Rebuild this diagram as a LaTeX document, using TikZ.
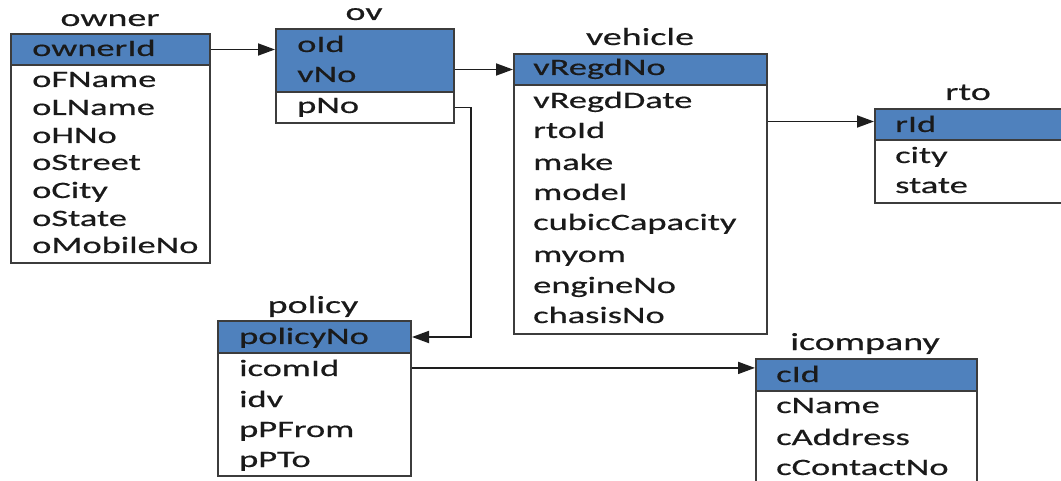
\documentclass[tikz,border=0pt]{standalone}
\usepackage{fontspec}
\newfontfamily\tabfont[FakeStretch=1.55,FakeBold=0.5]{Carlito}
\usetikzlibrary{arrows.meta}
\definecolor{hdrblue}{HTML}{4F81BD}
\definecolor{tabline}{HTML}{3C3C3C}
\definecolor{txt}{HTML}{1A1A1A}
\definecolor{linkc}{HTML}{1E1E1E}
\begin{document}
\begin{tikzpicture}[x=1pt,y=-1pt,
  hdr/.style={draw=tabline, fill=hdrblue, line width=2pt, inner sep=0pt, anchor=north west},
  bodybox/.style={draw=tabline, fill=white, line width=2pt, inner sep=0pt, anchor=north west},
  fld/.style={anchor=base west, inner sep=0pt, text=txt, font=\tabfont\fontsize{23.5}{23.5}\selectfont},
  ttl/.style={anchor=base, inner sep=0pt, text=txt, font=\tabfont\fontsize{24.5}{24.5}\selectfont},
  link/.style={draw=linkc, line width=1.8pt, -{Triangle[length=17pt,width=12pt]}}]
\useasboundingbox (0,0) rectangle (1061,481);
\clip (0,0) rectangle (1061,481);

% owner
\node[bodybox, minimum width=199pt, minimum height=198pt] (ownerB) at (10,64) {};
\node[hdr, minimum width=199pt, minimum height=31pt] (ownerH) at (10,33) {};
\node[ttl] (ownerT) at (110,26) {owner};
\node[fld] (ownerId) at (32,56) {ownerId};
\node[fld] (oFName) at (32,87) {oFName};
\node[fld] (oLName) at (32,115) {oLName};
\node[fld] (oHNo) at (32,143) {oHNo};
\node[fld] (oStreet) at (32,170) {oStreet};
\node[fld] (oCity) at (32,198) {oCity};
\node[fld] (oState) at (32,226) {oState};
\node[fld] (oMobileNo) at (32,253) {oMobileNo};

% ov
\node[bodybox, minimum width=178pt, minimum height=31pt] (ovB) at (275,91) {};
\node[hdr, minimum width=178pt, minimum height=63pt] (ovH) at (275,28) {};
\node[ttl] (ovT) at (364,20) {ov};
\node[fld] (oId) at (297,52) {oId};
\node[fld] (vNo) at (297,82) {vNo};
\node[fld] (pNo) at (297,113) {pNo};

% vehicle
\node[bodybox, minimum width=253pt, minimum height=249pt] (vehB) at (513,84) {};
\node[hdr, minimum width=253pt, minimum height=31pt] (vehH) at (513,53) {};
\node[ttl] (vehT) at (640,45) {vehicle};
\node[fld] (vRegdNo) at (533,75) {vRegdNo};
\node[fld] (vRegdDate) at (533,108) {vRegdDate};
\node[fld] (rtoId) at (533,138) {rtoId};
\node[fld] (make) at (533,170) {make};
\node[fld] (model) at (533,200) {model};
\node[fld] (cubicCapacity) at (533,230) {cubicCapacity};
\node[fld] (myom) at (533,262) {myom};
\node[fld] (engineNo) at (533,293) {engineNo};
\node[fld] (chasisNo) at (533,323) {chasisNo};

% rto
\node[bodybox, minimum width=189pt, minimum height=63pt] (rtoB) at (874,139) {};
\node[hdr, minimum width=189pt, minimum height=31pt] (rtoH) at (874,108) {};
\node[ttl] (rtoT) at (968,100) {rto};
\node[fld] (rId) at (895,132) {rId};
\node[fld] (city) at (895,163) {city};
\node[fld] (state) at (895,193) {state};

% policy
\node[bodybox, minimum width=193pt, minimum height=123pt] (polB) at (217,352) {};
\node[hdr, minimum width=193pt, minimum height=32pt] (polH) at (217,320) {};
\node[ttl] (polT) at (313,313) {policy};
\node[fld] (policyNo) at (239,344) {policyNo};
\node[fld] (icomId) at (239,376) {icomId};
\node[fld] (idv) at (239,407) {idv};
\node[fld] (pPFrom) at (239,437) {pPFrom};
\node[fld] (pPTo) at (239,467) {pPTo};

% icompany
\node[bodybox, minimum width=221pt, minimum height=110pt] (icoB) at (755,390) {};
\node[hdr, minimum width=221pt, minimum height=32pt] (icoH) at (755,358) {};
\node[ttl] (icoT) at (865,350) {icompany};
\node[fld] (cId) at (776,382) {cId};
\node[fld] (cName) at (776,413) {cName};
\node[fld] (cAddress) at (776,445) {cAddress};
\node[fld] (cContactNo) at (776,475) {cContactNo};

% relationships
\draw[link] (ownerH.east) -- (ownerH.east -| ovH.west);
\draw[link] (ovH.east |- vehH.west) -- (vehH.west);
\draw[link] ([yshift=3pt]vehB.east |- rtoH.west) -- ([yshift=3pt]rtoH.west);
\draw[link] (ovB.east) -- ++(16,0) |- (polH.east);
\draw[link] (polB.east |- icomId) -- (icoH.west |- icomId);
\end{tikzpicture}
\end{document}
